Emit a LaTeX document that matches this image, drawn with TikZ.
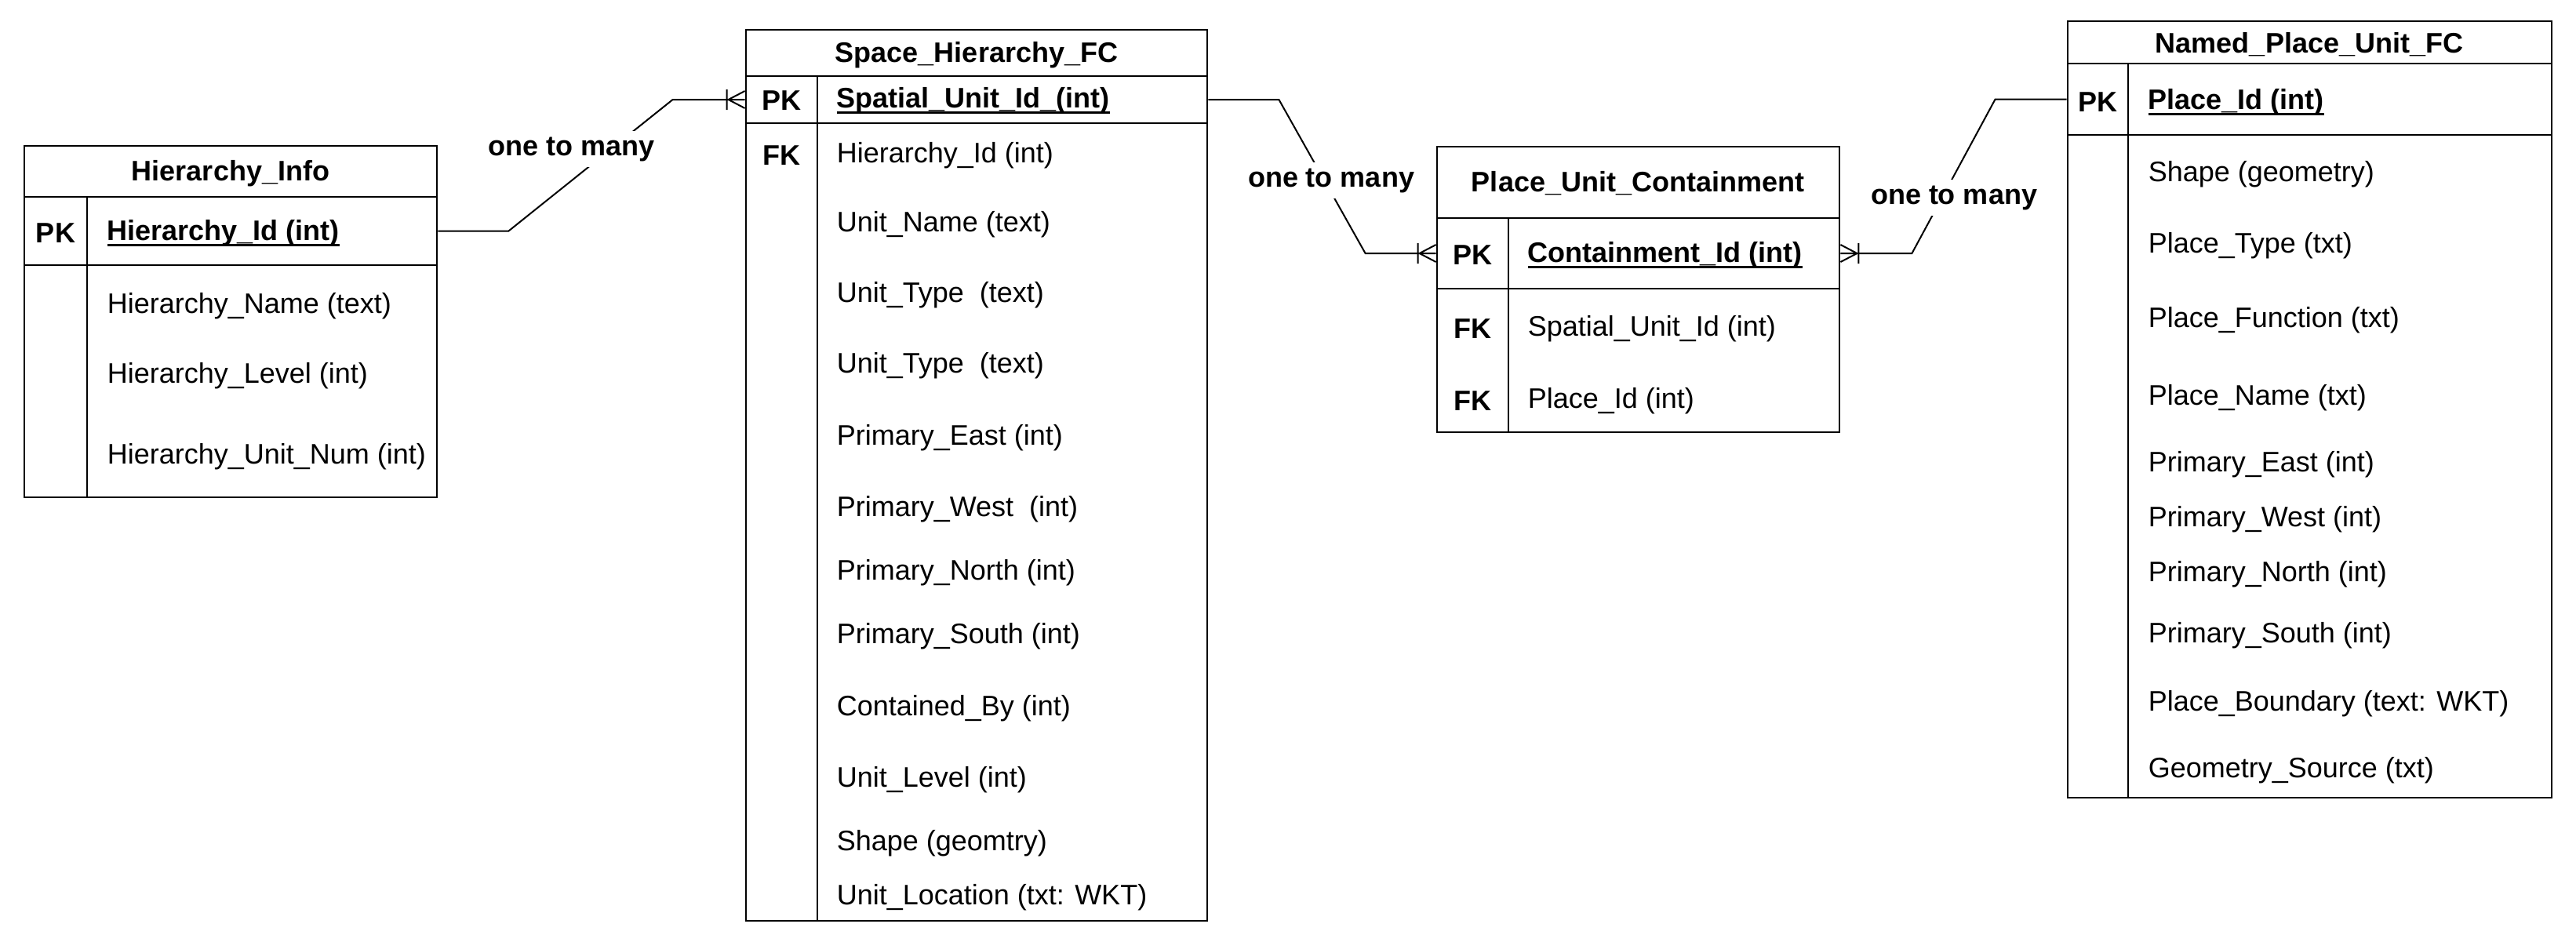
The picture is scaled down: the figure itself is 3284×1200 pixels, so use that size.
\documentclass[tikz,border=0pt]{standalone}
\usepackage{fontspec}
\setmainfont{Liberation Sans}
\usetikzlibrary{fit,calc}
\newcommand{\pkul}[1]{\setbox0=\hbox{#1}\rlap{\rule[-1.9pt]{\wd0}{0.6pt}}\box0}
\begin{document}
\begin{tikzpicture}[x=0.25pt,y=-0.25pt,
  cell/.style={draw, line width=0.7pt, inner sep=0pt},
  divline/.style={line width=0.7pt},
  fld/.style={anchor=west, inner sep=0pt, font=\fontsize{9}{11}\selectfont},
  keytxt/.style={inner sep=0pt, font=\bfseries\fontsize{9}{11}\selectfont},
  ttl/.style={inner sep=0pt, font=\bfseries\fontsize{9}{11}\selectfont},
  conn/.style={line width=0.5pt},
  lbl/.style={fill=white, inner sep=2pt, font=\bfseries\fontsize{9}{11}\selectfont},
  pics/crowfoot/.style={code={
    \draw[conn] (-21,0) -- (0,-11) (-21,0) -- (0,11) (-23,-13) -- (-23,13);
  }}
]
\fill[white] (0,0) rectangle (3284,1200);
\useasboundingbox (0,0) rectangle (3284,1200);

% ---------- Hierarchy_Info ----------
\node[cell, fit={(31,186) (557,251)}] (hiT) {};
\node[cell, fit={(31,251) (557,338)}] (hiPK) {};
\node[cell, fit={(31,338) (557,634)}] (hiB) {};
\draw[divline] (111,251) -- (111,634);
\node[ttl] (hiTt) at (294,221) {Hierarchy\_Info};
\node[keytxt] (hiK1) at (71,297) {PK};
\node[fld, font=\bfseries\fontsize{9}{11}\selectfont] (hiF0) at (136,297) {\pkul{Hierarchy\_Id (int)}};
\node[fld] (hiF1) at (136,390) {Hierarchy\_Name (text)};
\node[fld] (hiF2) at (136,479) {Hierarchy\_Level (int)};
\node[fld] (hiF3) at (136,582) {Hierarchy\_Unit\_Num (int)};

% ---------- Space_Hierarchy_FC ----------
\node[cell, fit={(951,38) (1539,97)}] (shT) {};
\node[cell, fit={(951,97) (1539,157)}] (shPK) {};
\node[cell, fit={(951,157) (1539,1174)}] (shB) {};
\draw[divline] (1042,97) -- (1042,1174);
\node[ttl] (shTt) at (1245,70) {Space\_Hierarchy\_FC};
\node[keytxt] (shK1) at (996,128) {PK};
\node[keytxt] (shK2) at (996,198) {FK};
\node[fld, font=\bfseries\fontsize{9}{11}\selectfont] (shF0) at (1066,128) {\pkul{Spatial\_Unit\_Id\_(int)}};
\node[fld] (shF1) at (1066,198) {Hierarchy\_Id (int)};
\node[fld] (shF2) at (1066,286) {Unit\_Name (text)};
\node[fld] (shF3) at (1066,376) {Unit\_Type\ \ (text)};
\node[fld] (shF4) at (1066,466) {Unit\_Type\ \ (text)};
\node[fld] (shF5) at (1066,558) {Primary\_East (int)};
\node[fld] (shF6) at (1066,649) {Primary\_West\ \ (int)};
\node[fld] (shF7) at (1066,730) {Primary\_North (int)};
\node[fld] (shF8) at (1066,811) {Primary\_South (int)};
\node[fld] (shF9) at (1066,903) {Contained\_By (int)};
\node[fld] (shF10) at (1066,994) {Unit\_Level (int)};
\node[fld] (shF11) at (1066,1075) {Shape (geomtry)};
\node[fld] (shF12) at (1066,1144) {Unit\_Location (txt: WKT)};

% ---------- Place_Unit_Containment ----------
\node[cell, fit={(1832,187) (2345,278)}] (puT) {};
\node[cell, fit={(1832,278) (2345,368)}] (puPK) {};
\node[cell, fit={(1832,368) (2345,551)}] (puB) {};
\draw[divline] (1923,278) -- (1923,551);
\node[ttl] (puTt) at (2088,234) {Place\_Unit\_Containment};
\node[keytxt] (puK1) at (1877,325) {PK};
\node[keytxt] (puK2) at (1877,419) {FK};
\node[keytxt] (puK3) at (1877,511) {FK};
\node[fld, font=\bfseries\fontsize{9}{11}\selectfont] (puF0) at (1947,325) {\pkul{Containment\_Id (int)}};
\node[fld] (puF1) at (1947,419) {Spatial\_Unit\_Id (int)};
\node[fld] (puF2) at (1947,511) {Place\_Id (int)};

% ---------- Named_Place_Unit_FC ----------
\node[cell, fit={(2636,27) (3253,81)}] (npT) {};
\node[cell, fit={(2636,81) (3253,172)}] (npPK) {};
\node[cell, fit={(2636,172) (3253,1017)}] (npB) {};
\draw[divline] (2713,81) -- (2713,1017);
\node[ttl] (npTt) at (2944,57) {Named\_Place\_Unit\_FC};
\node[keytxt] (npK1) at (2674,130) {PK};
\node[fld, font=\bfseries\fontsize{9}{11}\selectfont] (npF0) at (2738,130) {\pkul{Place\_Id (int)}};
\node[fld] (npF1) at (2738,222) {Shape (geometry)};
\node[fld] (npF2) at (2738,313) {Place\_Type (txt)};
\node[fld] (npF3) at (2738,408) {Place\_Function (txt)};
\node[fld] (npF4) at (2738,507) {Place\_Name (txt)};
\node[fld] (npF5) at (2738,592) {Primary\_East (int)};
\node[fld] (npF6) at (2738,662) {Primary\_West (int)};
\node[fld] (npF7) at (2738,732) {Primary\_North (int)};
\node[fld] (npF8) at (2738,810) {Primary\_South (int)};
\node[fld] (npF9) at (2738,897) {Place\_Boundary (text: WKT)};
\node[fld] (npF10) at (2738,982) {Geometry\_Source (txt)};

% ---------- Connectors ----------
\draw[conn] (hiPK.east) -- ++(90,0) -- ($(shPK.west)+(-92,0)$) -- (shPK.west);
\pic at (shPK.west) {crowfoot};
\node[lbl] (l1) at (729,190) {one to many};

\draw[conn] (shPK.east) -- ++(90,0) -- ($(puPK.west)+(-90,0)$) -- (puPK.west);
\pic at (puPK.west) {crowfoot};
\node[lbl] (l2) at (1697,230) {one to many};

\draw[conn] (puPK.east) -- ++(91,0) -- ($(npPK.west)+(-91,0)$) -- (npPK.west);
\pic[rotate=180] at (puPK.east) {crowfoot};
\node[lbl] (l3) at (2491,252) {one to many};
\end{tikzpicture}
\end{document}
